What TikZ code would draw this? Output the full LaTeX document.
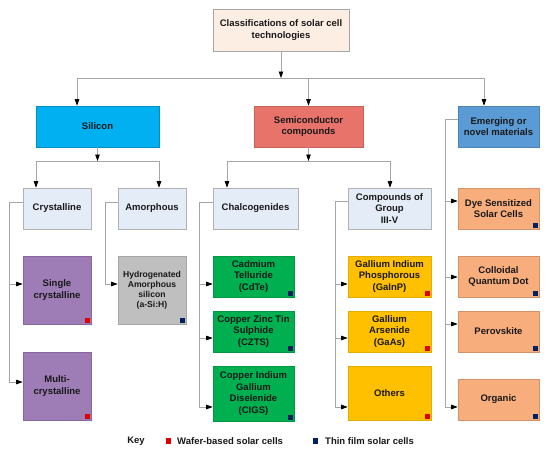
\documentclass[tikz,border=0pt]{standalone}
\usepackage{fontspec}
\setmainfont{Liberation Sans}
\usetikzlibrary{arrows.meta}
\definecolor{linegray}{HTML}{A6A6A6}
\definecolor{cTop}{HTML}{FDEEE4}
\definecolor{cSil}{HTML}{00B0F0}
\definecolor{cSemi}{HTML}{E8736B}
\definecolor{cEm}{HTML}{5B9BD5}
\definecolor{cLight}{HTML}{E4ECF7}
\definecolor{cPur}{HTML}{9E7CB6}
\definecolor{cGry}{HTML}{BFBFBF}
\definecolor{cGrn}{HTML}{00B050}
\definecolor{cYel}{HTML}{FFC000}
\definecolor{cOra}{HTML}{F8AD7C}
\definecolor{sqRed}{HTML}{E00000}
\definecolor{sqBlue}{HTML}{002060}
\newcommand\mysq[2]{\fill[#2] ([shift={(-6.5,-6.5)}]#1.south east) rectangle ([shift={(-1,-1)}]#1.south east);}
\begin{document}
\begin{tikzpicture}[x=1pt,y=-1pt,
  cell/.style={line width=0.6pt, inner sep=1pt, align=center,
    font=\fontsize{9.5}{11.5}\selectfont\bfseries, text=black!90},
  sz/.style 2 args={minimum width=#1pt, minimum height=#2pt},
  topbox/.style={cell, fill=cTop, draw=black!35},
  silbox/.style={cell, fill=cSil, draw=cSil!80!black},
  semibox/.style={cell, fill=cSemi, draw=cSemi!85!black},
  embox/.style={cell, fill=cEm, draw=cEm!85!black},
  lightbox/.style={cell, fill=cLight, draw=black!30},
  purbox/.style={cell, fill=cPur, draw=cPur!85!black},
  grybox/.style={cell, fill=cGry, draw=black!35, font=\fontsize{8.6}{10}\selectfont\bfseries},
  grnbox/.style={cell, fill=cGrn, draw=cGrn!85!black},
  yelbox/.style={cell, fill=cYel, draw=cYel!90!black},
  orabox/.style={cell, fill=cOra, draw=cOra!85!black},
  ln/.style={draw=linegray, line width=0.7pt},
  arr/.style={ln, -{Triangle[length=6.5pt,width=4.5pt,black]}},
  keytext/.style={font=\fontsize{9.5}{11.5}\selectfont\bfseries, text=black!90, inner sep=0pt}
]
\useasboundingbox (0,0) rectangle (550,450);
\fill[white] (0,0) rectangle (550,450);

% level 0/1
\node[topbox, sz={136}{42}] (top) at (281,30) {Classifications of solar cell\\technologies};
\node[silbox, sz={123}{41}] (silicon) at (97.5,126.5) {Silicon};
\node[semibox, sz={109}{41}] (semi) at (308.5,126.5) {Semiconductor\\compounds};
\node[embox, sz={81}{41}] (emerg) at (498.5,126.5) {Emerging or\\novel materials};

% level 2
\node[lightbox, sz={68}{41}] (cryst) at (57,208.5) {Crystalline};
\node[lightbox, sz={68}{41}] (amorph) at (152,208.5) {Amorphous};
\node[lightbox, sz={85}{41}] (chalc) at (255.5,208.5) {Chalcogenides};
\node[lightbox, sz={83}{41}] (comp) at (389.5,208.5) {Compounds of\\Group\\III-V};
\node[orabox, sz={81}{41}] (dye) at (498.5,208.5) {Dye Sensitized\\Solar Cells};

% leaves
\node[purbox, sz={68}{68}] (single) at (57,290) {Single\\crystalline};
\node[purbox, sz={68}{68}] (multi) at (57,386) {Multi-\\crystalline};
\node[grybox, sz={68}{68}] (hydro) at (152,290) {Hydrogenated\\Amorphous\\silicon\\(a-Si:H)};
\node[grnbox, sz={81}{41}] (cdte) at (253.5,276.5) {Cadmium\\Telluride\\(CdTe)};
\node[grnbox, sz={81}{41}] (czts) at (253.5,331.5) {Copper Zinc Tin\\Sulphide\\(CZTS)};
\node[grnbox, sz={81}{55}] (cigs) at (253.5,393.5) {Copper Indium\\Gallium\\Diselenide\\(CIGS)};
\node[yelbox, sz={83}{41}] (gainp) at (389.5,276.5) {Gallium Indium\\Phosphorous\\(GaInP)};
\node[yelbox, sz={83}{41}] (gaas) at (389.5,331.5) {Gallium\\Arsenide\\(GaAs)};
\node[yelbox, sz={83}{54}] (others) at (389.5,393) {Others};
\node[orabox, sz={81}{41}] (colloid) at (498.5,276.5) {Colloidal\\Quantum Dot};
\node[orabox, sz={81}{41}] (perov) at (498.5,331.5) {Perovskite};
\node[orabox, sz={81}{41}] (organic) at (498.5,399.5) {Organic};

% squares
\mysq{single}{sqRed}
\mysq{multi}{sqRed}
\mysq{gainp}{sqRed}
\mysq{gaas}{sqRed}
\mysq{others}{sqRed}
\mysq{hydro}{sqBlue}
\mysq{cdte}{sqBlue}
\mysq{czts}{sqBlue}
\mysq{cigs}{sqBlue}
\mysq{dye}{sqBlue}
\mysq{colloid}{sqBlue}
\mysq{perov}{sqBlue}
\mysq{organic}{sqBlue}

% top connectors
\coordinate (t0) at (281,78);
\coordinate (b0l) at (77,78);
\coordinate (b0r) at (484,78);
\draw[ln] (b0l) -- (b0r);
\draw[arr] (top.south) -- (t0);
\draw[arr] (b0l) -- (b0l |- silicon.north);
\draw[arr] (semi.north |- b0l) -- (semi.north);
\draw[arr] (b0r) -- (b0r |- emerg.north);

% silicon branch
\coordinate (s1) at (97.5,161);
\coordinate (s1l) at (36,161);
\coordinate (s1r) at (159,161);
\draw[ln] (s1l) -- (s1r);
\draw[arr] (silicon.south) -- (s1);
\draw[arr] (s1l) -- (s1l |- cryst.north);
\draw[arr] (s1r) -- (s1r |- amorph.north);

% semiconductor branch
\coordinate (m1) at (308.5,161);
\coordinate (m1l) at (227,161);
\coordinate (m1r) at (390,161);
\draw[ln] (m1l) -- (m1r);
\draw[arr] (semi.south) -- (m1);
\draw[arr] (m1l) -- (m1l |- chalc.north);
\draw[arr] (m1r) -- (m1r |- comp.north);

% crystalline spine
\coordinate (c0) at (9,202);
\coordinate (c1) at (9,284);
\coordinate (c2) at (9,382);
\draw[ln] ([yshift=6.5pt]cryst.west) -- (c0) -- (c2);
\draw[arr] (c1) -- (c1 -| single.west);
\draw[arr] (c2) -- (c2 -| multi.west);

% amorphous spine
\coordinate (a0) at (105,202);
\coordinate (a1) at (105,284);
\draw[ln] ([yshift=6.5pt]amorph.west) -- (a0) -- (a1);
\draw[arr] (a1) -- (a1 -| hydro.west);

% chalcogenides spine
\coordinate (h0) at (199,202);
\coordinate (h1) at (199,284);
\coordinate (h2) at (199,338);
\coordinate (h3) at (199,407);
\draw[ln] ([yshift=6.5pt]chalc.west) -- (h0) -- (h3);
\draw[arr] (h1) -- (h1 -| cdte.west);
\draw[arr] (h2) -- (h2 -| czts.west);
\draw[arr] (h3) -- (h3 -| cigs.west);

% compounds spine
\coordinate (g0) at (335,201);
\coordinate (g1) at (335,284);
\coordinate (g2) at (335,338);
\coordinate (g3) at (335,407);
\draw[ln] ([yshift=7.5pt]comp.west) -- (g0) -- (g3);
\draw[arr] (g1) -- (g1 -| gainp.west);
\draw[arr] (g2) -- (g2 -| gaas.west);
\draw[arr] (g3) -- (g3 -| others.west);

% emerging spine
\coordinate (e0) at (445,119);
\coordinate (e1) at (445,201);
\coordinate (e2) at (445,277);
\coordinate (e3) at (445,324);
\coordinate (e4) at (445,407);
\draw[ln] ([yshift=7.5pt]emerg.west) -- (e0) -- (e4);
\draw[arr] (e1) -- (e1 -| dye.west);
\draw[arr] (e2) -- (e2 -| colloid.west);
\draw[arr] (e3) -- (e3 -| perov.west);
\draw[arr] (e4) -- (e4 -| organic.west);

% key
\node[keytext] (key) at (136,441) {Key};
\node[fill=sqRed, minimum size=5.5pt, inner sep=0pt] (kred) at (168.5,441) {};
\node[keytext, anchor=west] (kwafer) at (177,441) {Wafer-based solar cells};
\node[fill=sqBlue, minimum size=5.5pt, inner sep=0pt] (kblue) at (315.5,441) {};
\node[keytext, anchor=west] (kthin) at (325,441) {Thin film solar cells};
\end{tikzpicture}
\end{document}
